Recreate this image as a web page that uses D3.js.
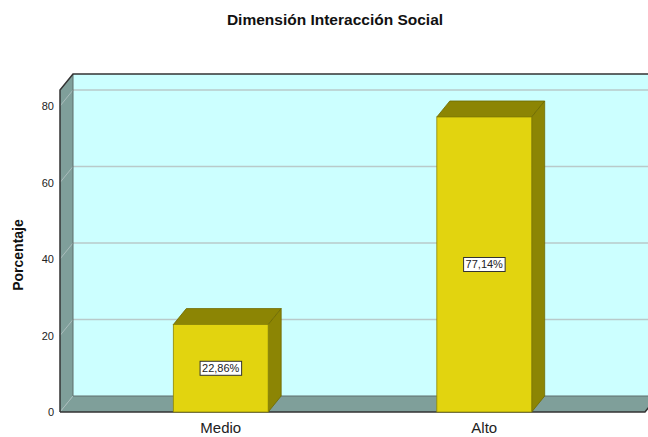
<!DOCTYPE html>
<html>
<head>
<meta charset="utf-8">
<script src="https://cdn.jsdelivr.net/npm/d3@7"></script>
<style>
  body { margin: 0; background: #fff; }
  text { font-family: "Liberation Sans", Arial, sans-serif; }
</style>
</head>
<body>
<script>
// data
var categories = ["Medio", "Alto"];
var values = [22.86, 77.14];
var valueLabels = ["22,86%", "77,14%"];
var yTicks = [0, 20, 40, 60, 80];

var W = 648, H = 437;
var plotLeft = 60, plotRight = 645, plotBottom = 412, plotTop = 90;
var dx = 13, dy = -16;   // 3d depth offset

var svg = d3.select("body").append("svg")
    .attr("width", W)
    .attr("height", H);

var x = d3.scaleBand()
    .domain(categories)
    .range([plotLeft, plotRight])
    .paddingInner(0.64)
    .paddingOuter(0.43)
    .align(0.5);

var y = d3.scaleLinear()
    .domain([0, 84.2])
    .range([plotBottom, plotTop]);

// back wall
svg.append("rect")
    .attr("x", plotLeft + dx).attr("y", plotTop + dy)
    .attr("width", W - plotLeft).attr("height", plotBottom - plotTop)
    .attr("fill", "#ccffff");

// gridlines on back wall
svg.selectAll(".grid")
    .data(yTicks.filter(function(d){ return d > 0; }))
    .enter().append("line")
    .attr("x1", plotLeft + dx).attr("x2", W + 20)
    .attr("y1", function(d){ return y(d) + dy; })
    .attr("y2", function(d){ return y(d) + dy; })
    .attr("stroke", "#b9caca").attr("stroke-width", 1.5);

// left wall
svg.append("polygon")
    .attr("points", [[plotLeft, plotTop], [plotLeft + dx, plotTop + dy], [plotLeft + dx, plotBottom + dy], [plotLeft, plotBottom]].join(" "))
    .attr("fill", "#7f9f9a");

// floor
svg.append("polygon")
    .attr("points", [[plotLeft, plotBottom], [plotLeft + dx, plotBottom + dy], [plotRight + dx, plotBottom + dy], [plotRight, plotBottom]].join(" "))
    .attr("fill", "#7f9f9a");

// diagonal tick lines on left wall
svg.selectAll(".diag")
    .data(yTicks)
    .enter().append("line")
    .attr("x1", plotLeft).attr("x2", plotLeft + dx)
    .attr("y1", function(d){ return y(d); })
    .attr("y2", function(d){ return y(d) + dy; })
    .attr("stroke", "#a9bcbb").attr("stroke-width", 1);

// inner edges
svg.append("line")
    .attr("x1", plotLeft + dx).attr("x2", plotLeft + dx)
    .attr("y1", plotTop + dy).attr("y2", plotBottom + dy)
    .attr("stroke", "#5f6f6d").attr("stroke-width", 1);
svg.append("line")
    .attr("x1", plotLeft + dx).attr("x2", W)
    .attr("y1", plotBottom + dy).attr("y2", plotBottom + dy)
    .attr("stroke", "#5f6f6d").attr("stroke-width", 1);

// outer edges
svg.append("path")
    .attr("d", "M" + plotLeft + "," + plotBottom + "L" + plotLeft + "," + plotTop + "L" + (plotLeft + dx) + "," + (plotTop + dy) + "L" + W + "," + (plotTop + dy))
    .attr("fill", "none").attr("stroke", "#333").attr("stroke-width", 1.5);
svg.append("path")
    .attr("d", "M" + plotLeft + "," + plotBottom + "L" + plotRight + "," + plotBottom + "L" + (plotRight + dx) + "," + (plotBottom + dy))
    .attr("fill", "none").attr("stroke", "#333").attr("stroke-width", 1.5);

// bars
var bars = svg.selectAll(".bar")
    .data(values)
    .enter().append("g")
    .attr("class", "bar");

bars.append("polygon")   // top
    .attr("points", function(d, i){
        var x0 = x(categories[i]), x1 = x0 + x.bandwidth(), yt = y(d);
        return [[x0, yt], [x0 + dx, yt + dy], [x1 + dx, yt + dy], [x1, yt]].join(" ");
    })
    .attr("fill", "#8c8504").attr("stroke", "#6e6900").attr("stroke-width", 0.8);

bars.append("polygon")   // side
    .attr("points", function(d, i){
        var x1 = x(categories[i]) + x.bandwidth(), yt = y(d);
        return [[x1, yt], [x1 + dx, yt + dy], [x1 + dx, plotBottom + dy], [x1, plotBottom]].join(" ");
    })
    .attr("fill", "#8c8504").attr("stroke", "#6e6900").attr("stroke-width", 0.8);

bars.append("rect")      // front
    .attr("x", function(d, i){ return x(categories[i]); })
    .attr("y", function(d){ return y(d); })
    .attr("width", x.bandwidth())
    .attr("height", function(d){ return plotBottom - y(d); })
    .attr("fill", "#e2d40f").attr("stroke", "#8c8504").attr("stroke-width", 0.8);

// value labels
bars.each(function(d, i){
    var g = d3.select(this);
    var cx = x(categories[i]) + x.bandwidth() / 2;
    var cy = (y(d) + plotBottom) / 2;
    var t = g.append("text")
        .attr("x", cx).attr("y", cy + 4)
        .attr("text-anchor", "middle")
        .attr("font-size", "11px")
        .attr("fill", "#222")
        .text(valueLabels[i]);
    var bb = t.node().getBBox();
    g.insert("rect", "text")
        .attr("x", bb.x - 2).attr("y", bb.y - 1)
        .attr("width", bb.width + 4).attr("height", bb.height + 2)
        .attr("fill", "#fff").attr("stroke", "#333").attr("stroke-width", 1);
});

// y tick labels
svg.selectAll(".ytick")
    .data(yTicks)
    .enter().append("text")
    .attr("x", plotLeft - 6)
    .attr("y", function(d){ return y(d) + 4; })
    .attr("text-anchor", "end")
    .attr("font-size", "11px")
    .attr("fill", "#222")
    .text(function(d){ return d; });

// x labels
svg.selectAll(".xlab")
    .data(categories)
    .enter().append("text")
    .attr("x", function(d){ return x(d) + x.bandwidth() / 2; })
    .attr("y", 433)
    .attr("text-anchor", "middle")
    .attr("font-size", "15px")
    .attr("fill", "#222")
    .text(function(d){ return d; });

// y axis title
svg.append("text")
    .attr("transform", "translate(23," + 255 + ") rotate(-90)")
    .attr("text-anchor", "middle")
    .attr("font-size", "14px")
    .attr("font-weight", "700")
    .attr("fill", "#111")
    .text("Porcentaje");

// title
svg.append("text")
    .attr("x", 335)
    .attr("y", 25)
    .attr("text-anchor", "middle")
    .attr("font-size", "15.5px")
    .attr("font-weight", "700")
    .attr("fill", "#111")
    .text("Dimensión Interacción Social");
</script>
</body>
</html>
